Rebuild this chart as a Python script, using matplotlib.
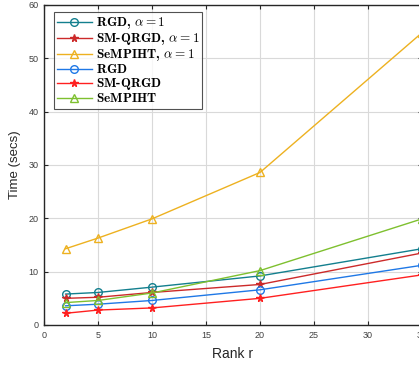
import matplotlib
matplotlib.use("Agg")
import matplotlib.pyplot as plt

plt.rcParams["mathtext.fontset"] = "cm"
plt.rcParams["font.family"] = ["Liberation Sans", "DejaVu Sans"]

rank = [2, 5, 10, 20, 35]

rgd_a1 = [5.8, 6.1, 7.1, 9.2, 14.3]
smqrgd_a1 = [5.0, 5.2, 6.1, 7.6, 13.5]
sempiht_a1 = [14.3, 16.3, 19.9, 28.6, 54.8]
rgd = [3.6, 3.9, 4.6, 6.6, 11.2]
smqrgd = [2.2, 2.8, 3.2, 5.0, 9.4]
sempiht = [4.2, 4.6, 6.0, 10.2, 19.9]

# every label goes through mathtext so the legend rows share one layout
series = [
    ("RGD, $\\alpha=1$", rgd_a1, "#137f8e", "o"),
    ("SM-QRGD, $\\alpha=1$", smqrgd_a1, "#cc2a2a", "*"),
    ("SeMPIHT, $\\alpha=1$", sempiht_a1, "#edb120", "^"),
    ("RGD$\\,$", rgd, "#1f78e6", "o"),
    ("SM-QRGD$\\,$", smqrgd, "#ff2020", "*"),
    ("SeMPIHT$\\,$", sempiht, "#7ec02f", "^"),
]

fig = plt.figure(figsize=(4.19, 3.67), dpi=100)
ax = fig.add_axes([44 / 419, 42 / 367, 378 / 419, 320 / 367])

for label, vals, color, marker in series:
    filled = marker == "*"
    ax.plot(rank, vals, color=color, lw=1.0, marker=marker,
            markersize=5.5,
            markerfacecolor=color if filled else "none",
            markeredgecolor=color, markeredgewidth=1.0, label=label)

ax.set_xlim(0, 35)
ax.set_ylim(0, 60)
ax.set_xticks(range(0, 36, 5))
ax.set_yticks(range(0, 61, 10))
ax.grid(True, color="#d9d9d9", lw=0.8)
ax.set_axisbelow(True)
ax.tick_params(direction="in", top=True, right=True, length=3, pad=4,
               labelsize=6.5, colors="#262626", labelcolor="#404040", width=0.8)
for s in ax.spines.values():
    s.set_color("#262626")
    s.set_linewidth(1.0)

ax.set_xlabel("Rank r", fontsize=10, color="#262626", labelpad=5)
ax.set_ylabel("Time (secs)", fontsize=9.5, color="#262626", labelpad=5)

leg = ax.legend(loc="upper left", bbox_to_anchor=(10 / 378, 1 - 7 / 320),
                prop={"family": "cmb10", "size": 9.5},
                frameon=True, fancybox=False, edgecolor="#262626",
                handlelength=2.6, handleheight=0.7, handletextpad=0.3,
                labelspacing=0.0, borderpad=0.25, borderaxespad=0.0)
leg.get_frame().set_linewidth(0.8)

fig.savefig("out.png", dpi=100)
